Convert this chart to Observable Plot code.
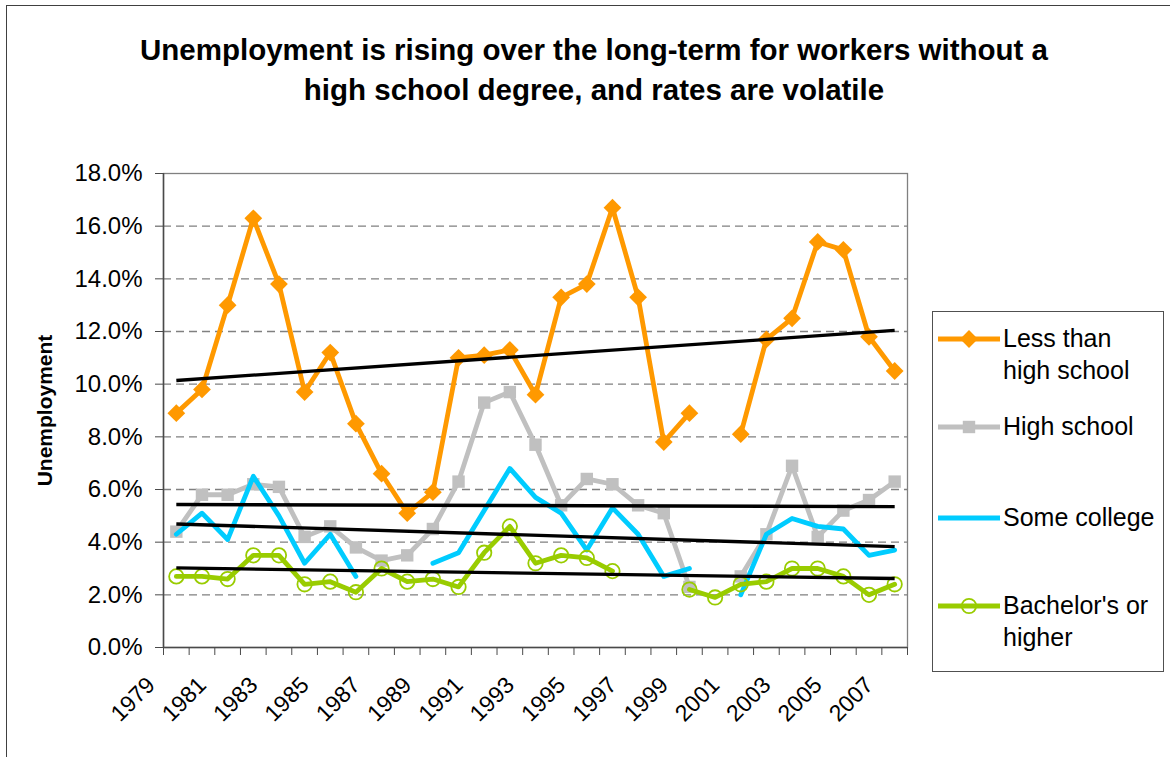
<!DOCTYPE html>
<html>
<head>
<meta charset="utf-8">
<script src="https://cdn.jsdelivr.net/npm/d3@7"></script>
<script src="https://cdn.jsdelivr.net/npm/@observablehq/plot@0.6"></script>
<style>
html, body { margin: 0; padding: 0; background: #fff; }
#wrap { position: relative; width: 1170px; height: 757px; overflow: hidden; font-family: "Liberation Sans", Arial, sans-serif; background: #fff; }
#wrap svg.plot { position: absolute; left: 0; top: 0; }
#outer { position: absolute; left: 6px; top: 5px; width: 1300px; height: 900px; border: 1.3px solid #404040; pointer-events: none; }
#title { position: absolute; left: 0; top: 30px; width: 1188px; text-align: center; font-weight: bold; font-size: 29.5px; line-height: 40px; color: #000; }
#legendBox { position: absolute; left: 932px; top: 311px; width: 230px; height: 359px; border: 1.3px solid #505050; background: #fff; }
.lg-text { position: absolute; left: 1003px; font-size: 25px; line-height: 32px; color: #000; white-space: nowrap; }
.lg-sw { position: absolute; left: 935px; width: 70px; height: 24px; }
</style>
</head>
<body>
<div id="wrap"></div>
<script>
// ---- data ----
const years = [1979,1980,1981,1982,1983,1984,1985,1986,1987,1988,1989,1990,1991,1992,1993,1994,1995,1996,1997,1998,1999,2000,2001,2002,2003,2004,2005,2006,2007];
const xLabelYears = [1979,1981,1983,1985,1987,1989,1991,1993,1995,1997,1999,2001,2003,2005,2007];
const yTicks = [0,2,4,6,8,10,12,14,16,18];
const gridTicks = [2,4,6,8,10,12,14,16];
const seriesNames = ["Less than high school","High school","Some college","Bachelor's or higher"];
const legendLines = [["Less than","high school"],["High school"],["Some college"],["Bachelor's or","higher"]];
const colors = ["#FF9900","#C0C0C0","#00CCFF","#99CC00"];

const lessThanHS = [8.9,9.8,13.0,16.3,13.8,9.7,11.2,8.5,6.6,5.1,5.9,11.0,11.1,11.3,9.6,13.3,13.8,16.7,13.3,7.8,8.9,null,8.1,11.7,12.5,15.4,15.1,11.8,10.5];
const highSchool = [4.4,5.8,5.8,6.2,6.1,4.2,4.6,3.8,3.3,3.5,4.5,6.3,9.3,9.7,7.7,5.4,6.4,6.2,5.4,5.1,2.3,null,2.7,4.3,6.9,4.2,5.2,5.6,6.3];
const someCollege = [4.3,5.1,4.1,6.5,5.0,3.2,4.3,2.7,null,null,3.2,3.6,5.2,6.8,5.7,5.1,3.7,5.3,4.3,2.7,3.0,null,2.0,4.3,4.9,4.6,4.5,3.5,3.7];
const bachelors = [2.7,2.7,2.6,3.5,3.5,2.4,2.5,2.1,3.0,2.5,2.6,2.3,3.6,4.6,3.2,3.5,3.4,2.9,null,null,2.2,1.9,2.4,2.5,3.0,3.0,2.7,2.0,2.4];

// linear trend lines: value at first and last year
const trendStart = [10.14, 5.43, 4.69, 3.02];
const trendEnd = [12.04, 5.35, 3.83, 2.62];

// ---- build ----
const allValues = [lessThanHS, highSchool, someCollege, bachelors];
const markerSpec = [
  {symbol: "diamond2", r: 8, fill: colors[0], stroke: "none", strokeWidth: 0},
  {symbol: "square", r: 7, fill: colors[1], stroke: "none", strokeWidth: 0},
  null,
  {symbol: "circle", r: 7.2, fill: "none", stroke: colors[3], strokeWidth: 1.8}
];
const xBoundaries = years.map(y => y - 0.5).concat([years[years.length - 1] + 0.5]);

const marks = [
  Plot.ruleY(gridTicks, {stroke: "#808080", strokeWidth: 1.3, strokeDasharray: "8,5"}),
  Plot.frame({stroke: "#808080", strokeWidth: 1.3}),
  Plot.ruleX([xBoundaries[0]], {stroke: "#4a4a4a", strokeWidth: 1.5}),
  Plot.ruleY([0], {stroke: "#4a4a4a", strokeWidth: 1.5}),
  Plot.axisY({ticks: yTicks, tickFormat: d => d.toFixed(1) + "%", tickSize: 8, tickPadding: 13, fontSize: 24, stroke: "#4a4a4a", label: null}),
  Plot.axisX({ticks: xBoundaries, tickFormat: () => "", tickSize: 8, stroke: "#4a4a4a", label: null}),
  Plot.text(xLabelYears, {x: d => d, text: d => String(d), frameAnchor: "bottom", rotate: -45, textAnchor: "end", dx: -20, dy: 39, fontSize: 23, fill: "#000"}),
  Plot.text(["Unemployment"], {text: d => d, frameAnchor: "left", textAnchor: "middle", dx: -118, rotate: -90, fontSize: 21, fontWeight: "bold", fill: "#000", ariaLabel: "ytitle"})
];

allValues.forEach((vals, k) => {
  const rows = years.map((year, i) => ({year, value: vals[i], series: seriesNames[k]}));
  marks.push(Plot.line(rows, {x: "year", y: "value", stroke: colors[k], strokeWidth: 4.8, strokeLinejoin: "round"}));
  const m = markerSpec[k];
  if (m) {
    marks.push(Plot.dot(rows.filter(d => d.value != null), {x: "year", y: "value", symbol: m.symbol, r: m.r, fill: m.fill, stroke: m.stroke, strokeWidth: m.strokeWidth}));
  }
});

const trendRows = seriesNames.map((name, k) => ({name, start: trendStart[k], end: trendEnd[k]}));
marks.push(Plot.link(trendRows, {x1: () => years[0], x2: () => years[years.length - 1], y1: "start", y2: "end", stroke: "#000", strokeWidth: 3.3}));

const chart = Plot.plot({
  width: 1170,
  height: 757,
  marginLeft: 163,
  marginRight: 263,
  marginTop: 173,
  marginBottom: 110,
  style: {fontFamily: "'Liberation Sans', Arial, sans-serif", color: "#000", background: "transparent", overflow: "visible"},
  x: {domain: [xBoundaries[0], xBoundaries[xBoundaries.length - 1]]},
  y: {domain: [0, 18]},
  marks
});
chart.classList.add("plot");
d3.select(chart).selectAll('g[aria-label="ytitle"] text').attr("letter-spacing", "1.6px");

const wrap = document.getElementById("wrap");
wrap.appendChild(chart);

// outer chart frame
const outer = document.createElement("div");
outer.id = "outer";
wrap.appendChild(outer);

// title
const title = document.createElement("div");
title.id = "title";
title.innerHTML = "Unemployment is rising over the long-term for workers without a<br>high school degree, and rates are volatile";
wrap.appendChild(title);

// legend
const box = document.createElement("div");
box.id = "legendBox";
wrap.appendChild(box);
const lineYs = [339.3, 427.3, 518.3, 606];
const svgNS = "http://www.w3.org/2000/svg";
seriesNames.forEach((name, k) => {
  const sw = document.createElementNS(svgNS, "svg");
  sw.setAttribute("class", "lg-sw");
  sw.setAttribute("width", 70);
  sw.setAttribute("height", 24);
  sw.style.top = (lineYs[k] - 12) + "px";
  const ln = document.createElementNS(svgNS, "line");
  ln.setAttribute("x1", 3); ln.setAttribute("x2", 65); ln.setAttribute("y1", 12); ln.setAttribute("y2", 12);
  ln.setAttribute("stroke", colors[k]); ln.setAttribute("stroke-width", 4.8);
  sw.appendChild(ln);
  const m = markerSpec[k];
  if (m) {
    const p = document.createElementNS(svgNS, "path");
    const size = Math.PI * m.r * m.r;
    const sym = m.symbol === "diamond2" ? d3.symbolDiamond2 : m.symbol === "square" ? d3.symbolSquare : d3.symbolCircle;
    p.setAttribute("d", d3.symbol(sym, size)());
    p.setAttribute("transform", "translate(34,12)");
    p.setAttribute("fill", m.fill);
    p.setAttribute("stroke", m.stroke);
    p.setAttribute("stroke-width", m.strokeWidth);
    sw.appendChild(p);
  }
  wrap.appendChild(sw);
  const t = document.createElement("div");
  t.className = "lg-text";
  t.style.top = (lineYs[k] + 7.4 - 24.7) + "px";
  t.innerHTML = legendLines[k].join("<br>");
  wrap.appendChild(t);
});
</script>
</body>
</html>
